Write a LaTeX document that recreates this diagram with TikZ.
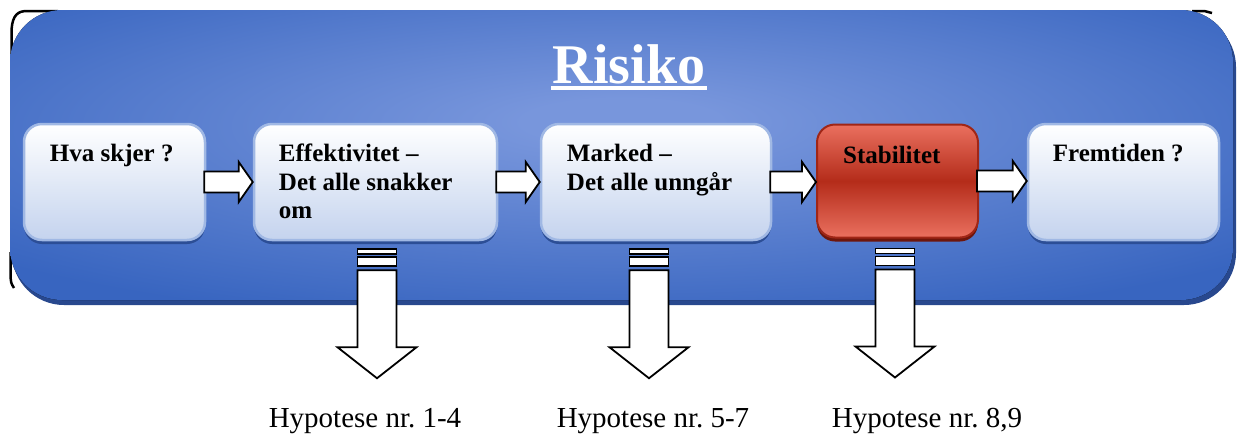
\documentclass[tikz,border=0pt]{standalone}
\usepackage{fontspec}
\setmainfont{Liberation Serif}
\usetikzlibrary{calc,shadows}

\definecolor{bgout}{RGB}{56,101,192}
\definecolor{bgin}{RGB}{120,150,220}
\definecolor{bgshadow}{RGB}{40,72,142}
\definecolor{boxbottom}{RGB}{196,211,238}
\definecolor{boxedge}{RGB}{160,184,228}
\definecolor{boxshadow}{RGB}{44,78,150}
\definecolor{redlight}{RGB}{234,112,95}
\definecolor{reddark}{RGB}{180,44,26}
\definecolor{rededge}{RGB}{160,38,22}
\definecolor{redshadow}{RGB}{110,22,12}

% soft glow in the middle of the panel
\pgfdeclareradialshading{panelglow}{\pgfpoint{0bp}{6bp}}{%
  color(0bp)=(bgin); color(4bp)=(bgin); color(34bp)=(bgout); color(100bp)=(bgout)}

\newcommand{\flowarrow}[2]{%
  \draw[flowarrowstyle] let \p1=(#1.east), \p2=(#2.west) in
    ({\x1-2pt},{\y1+10.5pt}) -- ({\x2-14pt},{\y1+10.5pt}) -- ({\x2-14pt},{\y1+20pt})
    -- (\x2,\y1) -- ({\x2-14pt},{\y1-20pt}) -- ({\x2-14pt},{\y1-10.5pt})
    -- ({\x1-2pt},{\y1-10.5pt}) -- cycle;}

\newcommand{\hypoarrow}[1]{%
  \begin{scope}[shift={(#1)}]
    \draw[flowarrowstyle] (-19.5,0) rectangle (19.5,5);
    \draw[flowarrowstyle] (-19.5,8) rectangle (19.5,17);
    \draw[flowarrowstyle] (-19.5,21) -- (-19.5,98) -- (-39.5,98) -- (0,129)
      -- (39.5,98) -- (19.5,98) -- (19.5,21) -- cycle;
  \end{scope}}

\begin{document}
\begin{tikzpicture}[x=1pt,y=-1pt,
  flowarrowstyle/.style={draw=black, fill=white, line width=1.8pt, line join=miter},
  stagebox/.style={rounded corners=18pt, draw=boxedge, line width=2.5pt,
    top color=white, bottom color=boxbottom, minimum height=116pt, inner sep=0pt,
    drop shadow={shadow xshift=0pt, shadow yshift=-4pt, fill=boxshadow, opacity=1}},
  redbox/.style={rounded corners=18pt, draw=rededge, line width=2pt,
    top color=redlight, bottom color=redlight, middle color=reddark,
    minimum height=113pt, inner sep=0pt,
    drop shadow={shadow xshift=0pt, shadow yshift=-4pt, fill=redshadow, opacity=1}},
  boxtext/.style={font=\fontsize{25}{28.5}\selectfont\bfseries, inner sep=0pt, anchor=base west},
  hypotext/.style={font=\fontsize{29}{32}\selectfont, inner sep=0pt, anchor=base},
]
\useasboundingbox (0,0) rectangle (1237,437);

% broken dark outline peeking out behind the panel corners
\draw[black, line width=2.5pt] (11.5,62) -- (11.5,33) .. controls (11.5,20) and (15,12) .. (24,11.2) -- (58,11.2);
\draw[black, line width=2.5pt] (1192,11.2) -- (1205,11.2) .. controls (1209,11.5) .. (1212,13);
\draw[black, line width=2.5pt] (10.5,252) -- (10.5,276) .. controls (11,283) .. (14,288);

% blue panel with its shadow
\fill[bgshadow, rounded corners=52pt] (12,15) rectangle (1236,305);
\fill[shading=panelglow, rounded corners=52pt] (10,10) rectangle (1233,300);

% title
\node[font=\fontsize{56}{60}\selectfont\bfseries, text=white, inner sep=0pt, anchor=base]
  (title) at (629,83) {Risiko};
\fill[white] ($(title.base west)+(-2,3)$) rectangle ($(title.base east)+(2,6.5)$);

% stage boxes
\node[stagebox, minimum width=181pt] (b1) at (114.5,182) {};
\node[stagebox, minimum width=243pt] (b2) at (375.5,182) {};
\node[stagebox, minimum width=230pt] (b3) at (656,182) {};
\node[redbox,   minimum width=161pt] (b4) at (897.5,181) {};
\node[stagebox, minimum width=191pt] (b5) at (1123.5,182) {};

\node[boxtext] (t1) at ($(b1.north west)+(27,39)$) {Hva skjer ?};
\node[boxtext] (t2) at ($(b2.north west)+(26,39)$)
  {\begin{tabular}[t]{@{}l@{}}Effektivitet --\\Det alle snakker\\om\end{tabular}};
\node[boxtext] (t3) at ($(b3.north west)+(27,39)$)
  {\begin{tabular}[t]{@{}l@{}}Marked --\\Det alle unngår\end{tabular}};
\node[boxtext] (t4) at ($(b4.north west)+(27,40)$) {Stabilitet};
\node[boxtext] (t5) at ($(b5.north west)+(26,39)$) {Fremtiden ?};

% flow between stages
\flowarrow{b1}{b2}
\flowarrow{b2}{b3}
\flowarrow{b3}{b4}
\flowarrow{b4}{b5}

% arrows down to the hypotheses
\coordinate (d1) at ($(b2.south)+(1.5,8)$);
\coordinate (d2) at ($(b3.south)+(-7,8)$);
\coordinate (d3) at ($(b4.south)+(-2.5,10)$);
\hypoarrow{d1}
\hypoarrow{d2}
\hypoarrow{d3}

\node[hypotext] (h1) at (365,427) {Hypotese nr.\ 1-4};
\node[hypotext] (h2) at (653,427) {Hypotese nr.\ 5-7};
\node[hypotext] (h3) at (927,427) {Hypotese nr.\ 8,9};
\end{tikzpicture}
\end{document}
